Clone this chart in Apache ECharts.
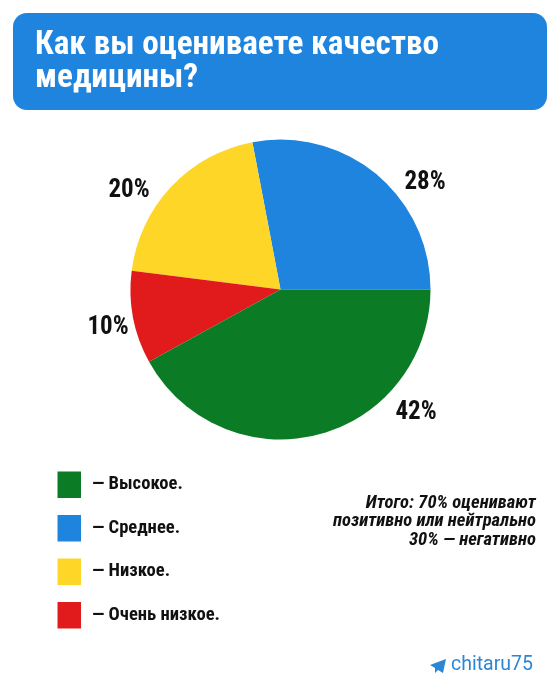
<!DOCTYPE html>
<html>
<head>
<meta charset="utf-8">
<style>html,body{margin:0;padding:0;background:#fff}#chart{width:560px;height:700px}</style>
<script src="https://cdn.jsdelivr.net/npm/echarts@6/dist/echarts.min.js"></script>
</head>
<body>
<div id="chart"></div>
<script>
// Survey answers, in the order the slices run counter-clockwise from 3 o'clock
const categories = ['Среднее', 'Низкое', 'Очень низкое', 'Высокое'];
const values = [28, 20, 10, 42];
const sliceColors = ['#1e84de', '#fed627', '#e11b1b', '#0b7b25'];
const legendOrder = ['Высокое', 'Среднее', 'Низкое', 'Очень низкое'];
const titleLines = ['Как вы оцениваете качество', 'медицины?'];
const summaryLines = ['Итого: 70% оценивают', 'позитивно или нейтрально', '30% — негативно'];
const handle = 'chitaru75';

const FONT = "'Roboto Condensed',Roboto,sans-serif";

// Where each percentage sits around the pie
const labelSpots = [[425, 182.5], [129, 191], [108, 327.5], [416, 413]];

function headingText(x, y, text, fontSize, opts) {
  opts = opts || {};
  return {
    type: 'text', x: x, y: y, silent: true,
    style: {
      text: text, fill: opts.fill || '#111', fontFamily: FONT,
      fontSize: fontSize, fontWeight: 700, fontStyle: opts.italic ? 'italic' : 'normal',
      textAlign: opts.align || 'left', textVerticalAlign: 'middle'
    }
  };
}

const graphics = [
  { type: 'rect', z: -1, silent: true, shape: { x: 13, y: 13, width: 534, height: 97, r: 14 }, style: { fill: '#1e84de' } },
  headingText(35, 45.5, titleLines[0], 33.2, { fill: '#fff' }),
  headingText(35, 79, titleLines[1], 33.2, { fill: '#fff' })
];
summaryLines.forEach(function (line, i) {
  graphics.push(headingText(536, 503.5 + i * 18.3, line, 18.6, { italic: true, align: 'right' }));
});
graphics.push({
  type: 'polygon', silent: true,
  shape: { points: [[430, 665], [446, 659], [443, 673], [438, 670], [435, 673], [435, 668]] },
  style: { fill: '#2b86d6' }
});
graphics.push({
  type: 'text', x: 451, y: 665.5, silent: true,
  style: { text: handle, fill: '#2b86d6', fontFamily: 'Roboto, sans-serif', fontSize: 19.5, fontWeight: 400, textVerticalAlign: 'middle' }
});

const chart = echarts.init(document.getElementById('chart'), null, { renderer: 'canvas' });
chart.setOption({
  animation: false,
  backgroundColor: '#fff',
  graphic: graphics,
  color: sliceColors,
  legend: {
    orient: 'vertical', left: 57.5, top: 471.5, padding: 0,
    data: legendOrder, selectedMode: false,
    icon: 'rect', itemWidth: 23.5, itemHeight: 26.5, itemGap: 17,
    formatter: function (name) { return '— ' + name + '.'; },
    textStyle: { fontFamily: FONT, fontSize: 18.6, fontWeight: 700, color: '#111', padding: [3, 0, 0, 6] }
  },
  series: [{
    type: 'pie',
    center: [280.5, 289.5],
    radius: [0, 150],
    startAngle: 0,
    clockwise: false,
    silent: true,
    data: categories.map(function (name, i) { return { name: name, value: values[i] }; }),
    label: {
      position: 'outside',
      formatter: '{c}%',
      fontFamily: FONT, fontSize: 25, fontWeight: 700, color: '#111'
    },
    labelLine: { show: false },
    labelLayout: function (p) {
      const s = labelSpots[p.dataIndex];
      return { x: s[0], y: s[1], align: 'center', verticalAlign: 'middle', hideOverlap: false };
    }
  }]
});
</script>
</body>
</html>
